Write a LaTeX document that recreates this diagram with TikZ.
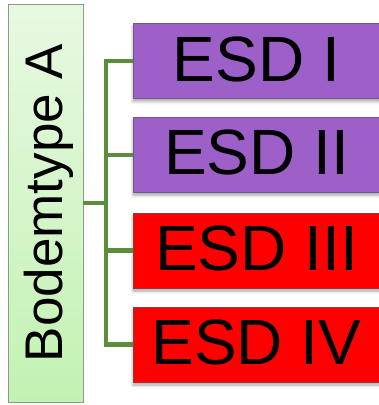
\documentclass[tikz,border=0pt]{standalone}
\usepackage{fontspec}
\setmainfont{Liberation Sans}
\usetikzlibrary{shadows.blur}
\definecolor{lineGreen}{RGB}{92,140,60}
\definecolor{rootTop}{RGB}{232,249,226}
\definecolor{rootBot}{RGB}{194,242,178}
\definecolor{rootEdge}{RGB}{140,156,132}
\definecolor{esdPurple}{RGB}{156,96,200}
\definecolor{purpleEdge}{RGB}{110,90,126}
\definecolor{esdRed}{RGB}{255,0,0}
\definecolor{redEdge}{RGB}{140,60,60}
\tikzset{
  rootbox/.style={draw=rootEdge, line width=0.8pt, rotate=90,
    top color=rootTop, bottom color=rootBot,
    minimum width=398pt, minimum height=75pt, inner sep=0pt,
    font=\fontsize{53}{53}\selectfont, text height=35pt, text depth=0pt},
  esdbox/.style={line width=0.8pt, minimum width=247pt, minimum height=75pt,
    inner sep=0pt, font=\fontsize{64}{64}\selectfont,
    text height=40pt, text depth=0pt,
    blur shadow={shadow xshift=0pt, shadow yshift=-3pt, shadow blur radius=3pt, shadow opacity=35}},
  purplebox/.style={esdbox, fill=esdPurple, draw=purpleEdge},
  redbox/.style={esdbox, fill=esdRed, draw=redEdge},
  conn/.style={draw=lineGreen, line width=4.5pt}
}
\begin{document}
\begin{tikzpicture}[x=1pt, y=-1pt]
\useasboundingbox (0,0) rectangle (379,405);
\coordinate (sp) at (106,203);
\node[rootbox] (root) at (45.5,203) {Bodemtype A};
\node[purplebox] (e1) at (256.5,61) {ESD I};
\node[purplebox] (e2) at (256.5,154.75) {ESD II};
\node[redbox] (e3) at (256.5,250.5) {ESD III};
\node[redbox] (e4) at (256.5,344.5) {ESD IV};
\draw[conn] (root.south) -- (sp);
\draw[conn] (e1.west) -| (sp);
\draw[conn] (e2.west) -| (sp);
\draw[conn] (e3.west) -| (sp);
\draw[conn] (e4.west) -| (sp);
\end{tikzpicture}
\end{document}
